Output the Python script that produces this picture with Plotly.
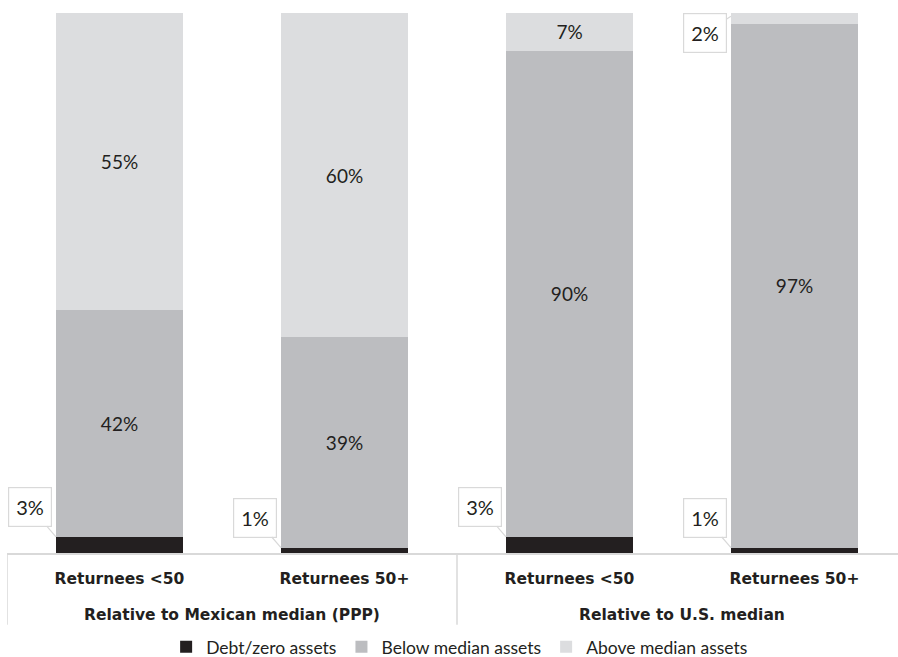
import plotly.graph_objects as go

# Household asset position of returnees, by age group and benchmark
categories = ["Returnees <50", "Returnees 50+", "Returnees <50", "Returnees 50+"]
groups = ["Relative to Mexican median (PPP)", "Relative to U.S. median"]
series_names = ["Debt/zero assets", "Below median assets", "Above median assets"]
debt_zero = [3, 1, 3, 1]
below_median = [42, 39, 90, 97]
above_median = [55, 60, 7, 2]

colors = ["#231f20", "#bcbdc0", "#dcdddf"]
text_color = "#231f20"
grid_color = "#d9d9d9"
label_font = "Lato"
axis_font = "DejaVu Sans"
bar_width = 0.565
callout_min = 5  # segments smaller than this get a callout instead of an inside label

xpos = list(range(len(categories)))
values = [debt_zero, below_median, above_median]

fig = go.Figure()
for name, vals, col in zip(series_names, values, colors):
    fig.add_trace(go.Bar(
        x=xpos, y=vals, name=name, width=bar_width,
        marker=dict(color=col, line=dict(width=0)),
        text=[f"{v}%" if v >= callout_min else "" for v in vals],
        textposition="inside", insidetextanchor="middle",
        textfont=dict(family=label_font, size=19, color=text_color),
        hoverinfo="skip",
    ))

# callouts for the thin segments, pointing at the segment's left edge
annotations = []
base = [0] * len(categories)
for si, vals in enumerate(values):
    for i, v in enumerate(vals):
        if v < callout_min:
            at_top = base[i] + v >= 100 - callout_min
            tip_y = base[i] + v if not at_top else base[i] + v * 0.7
            annotations.append(dict(
                x=i - bar_width / 2, y=tip_y, xref="x", yref="y",
                text=f"{v}%", showarrow=True, arrowhead=0, arrowwidth=1.2,
                arrowcolor=grid_color, ax=-26, ay=(17 if at_top else -30),
                bgcolor="white", bordercolor=grid_color, borderwidth=1.2,
                borderpad=7, font=dict(family=label_font, size=20, color=text_color),
            ))
        base[i] += v

# group labels under the category labels
for gi, g in enumerate(groups):
    annotations.append(dict(
        x=2 * gi + 0.5, y=-0.114, xref="x", yref="paper", yanchor="middle",
        text=f"<b>{g}</b>", showarrow=False,
        font=dict(family=axis_font, size=15.5, color=text_color),
    ))

# vertical dividers between the groups
shapes = []
for d in [-0.5, 1.5, 3.5]:
    shapes.append(dict(
        type="line", xref="x", yref="paper", x0=d, x1=d, y0=0, y1=-0.133,
        line=dict(color=grid_color, width=1.5),
    ))

fig.update_layout(
    barmode="stack",
    width=898, height=657,
    margin=dict(l=7, r=0, t=13, b=104, autoexpand=False),
    paper_bgcolor="white", plot_bgcolor="white",
    showlegend=True,
    legend=dict(
        orientation="h", x=0.508, xanchor="center", y=-0.174, yanchor="middle",
        font=dict(family=label_font, size=17.5, color=text_color),
        traceorder="normal",
    ),
    xaxis=dict(
        range=[-0.5, 3.46], tickvals=xpos,
        ticktext=[f"<b>{c}</b>" for c in categories],
        tickfont=dict(family=axis_font, size=15.5, color=text_color),
        showline=True, linecolor=grid_color, linewidth=1.5,
        showgrid=False, zeroline=False, ticks="", ticklabelstandoff=11,
    ),
    yaxis=dict(range=[0, 100], visible=False),
    annotations=annotations,
    shapes=shapes,
)

fig.write_html("out.html")
